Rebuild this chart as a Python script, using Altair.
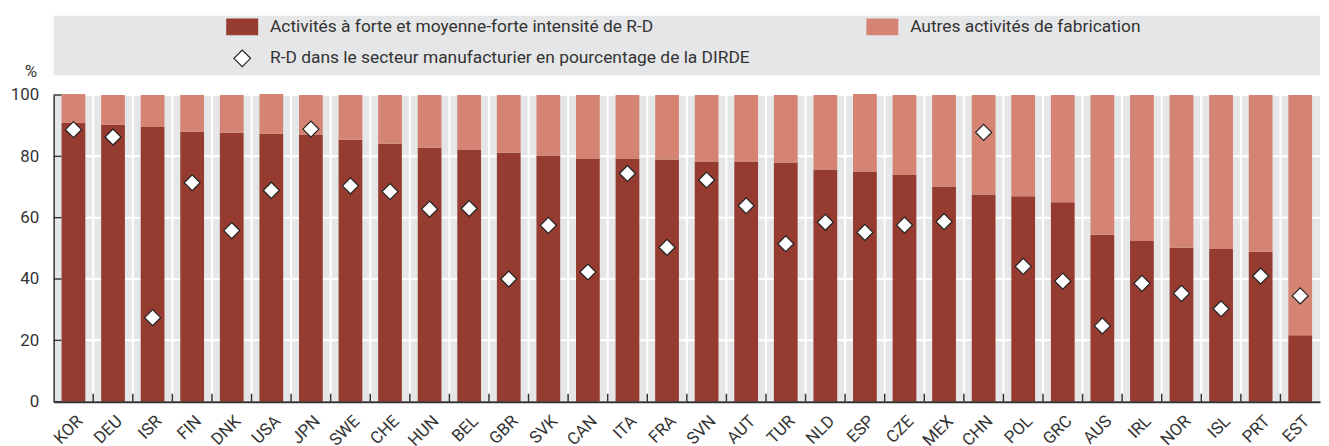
import altair as alt
import pandas as pd

countries = ["KOR", "DEU", "ISR", "FIN", "DNK", "USA", "JPN", "SWE", "CHE", "HUN",
             "BEL", "GBR", "SVK", "CAN", "ITA", "FRA", "SVN", "AUT", "TUR", "NLD",
             "ESP", "CZE", "MEX", "CHN", "POL", "GRC", "AUS", "IRL", "NOR", "ISL",
             "PRT", "EST"]
haute_intensite = [90.9, 90.3, 89.6, 88.0, 87.7, 87.4, 87.1, 85.4, 84.1, 82.8,
                   82.2, 81.2, 80.3, 79.3, 79.3, 79.0, 78.3, 78.3, 78.0, 75.7,
                   75.1, 74.1, 70.2, 67.6, 67.0, 65.0, 54.4, 52.4, 50.2, 49.8,
                   48.9, 21.7]
autres_activites = [9.4, 9.7, 10.4, 12.0, 12.3, 12.9, 12.9, 14.6, 15.9, 17.2,
                    17.8, 18.8, 19.7, 20.7, 20.7, 21.0, 21.7, 21.7, 22.0, 24.3,
                    25.2, 25.9, 29.8, 32.4, 33.0, 35.0, 45.6, 47.6, 49.8, 50.2,
                    51.1, 78.3]
rd_manufacturier = [88.7, 86.3, 27.4, 71.4, 55.8, 68.9, 88.9, 70.4, 68.5, 62.8,
                    63.0, 40.0, 57.5, 42.3, 74.4, 50.3, 72.3, 63.9, 51.5, 58.5,
                    55.2, 57.6, 58.7, 87.8, 44.1, 39.3, 24.7, 38.6, 35.3, 30.3,
                    41.0, 34.5]
y_ticks = [0, 20, 40, 60, 80, 100]

S_HIGH = "Activités à forte et moyenne-forte intensité de R-D"
S_OTHER = "Autres activités de fabrication"
S_RD = "R-D dans le secteur manufacturier en pourcentage de la DIRDE"
series = [S_HIGH, S_OTHER, S_RD]

n = len(countries)
bars_df = pd.DataFrame({
    "pays": countries * 2,
    "serie": [S_HIGH] * n + [S_OTHER] * n,
    "ordre": [0] * n + [1] * n,
    "valeur": haute_intensite + autres_activites,
})
pts_df = pd.DataFrame({"pays": countries, "serie": [S_RD] * n, "valeur": rd_manufacturier})
ticks_df = pd.DataFrame({"valeur": y_ticks})
bands_df = pd.DataFrame({"pays": countries})
panel_df = pd.DataFrame({"a": [0]})

FONT = "Roboto"
FS = 17
DARK = "#953B2F"
LIGHT = "#D58372"
BG = "#E5E6E8"
INK = "#333333"
W = 1276
H = 309
STEP = W / n
HALF_GAP = -0.2 * STEP
RECT = "M-1.85,-0.95H1.85V0.95H-1.85Z"

x_scale = alt.Scale(paddingInner=0.4, paddingOuter=0.2)
y_scale = alt.Scale(domain=[0, 100], nice=False)
color_scale = alt.Scale(domain=series, range=[DARK, LIGHT, "#FFFFFF"])
stroke_scale = alt.Scale(domain=series, range=[DARK, LIGHT, "#222222"])
shape_scale = alt.Scale(domain=series, range=[RECT, RECT, "diamond"])

x_axis = alt.Axis(orient="bottom", labelAngle=-45, labelFont=FONT,
                  labelFontSize=FS, labelColor=INK, labelPadding=11,
                  labelOffset=1, ticks=False, grid=False,
                  domainColor=INK, domainWidth=2, zindex=1)
y_axis = alt.Axis(orient="left", values=y_ticks, title="%",
                  titleAngle=0, titleX=-23.5, titleY=-19,
                  titleAlign="center", titleBaseline="alphabetic",
                  titleFont=FONT, titleFontSize=FS,
                  titleFontWeight="normal", titleColor=INK,
                  labelFont=FONT, labelFontSize=FS, labelColor=INK,
                  labelPadding=15, ticks=False, grid=False,
                  domainColor=INK, domainWidth=1.5, zindex=1)


def X(**kw):
    return alt.X("pays:N", sort=countries, scale=x_scale, title=None, axis=x_axis, **kw)


def Y(**kw):
    return alt.Y("valeur:Q", scale=y_scale, title="%", axis=y_axis, **kw)


legend = alt.Legend(
    title=None, orient="none", legendX=181, legendY=2, columns=2,
    direction="horizontal", columnPadding=115, rowPadding=10,
    labelFont=FONT, labelFontSize=17.5, labelColor=INK, labelOffset=19,
    labelLimit=700, symbolSize=280, symbolStrokeWidth=1.2, padding=0,
)

background = alt.Chart(panel_df).mark_rect(color=BG).encode(
    x=alt.value(0), x2=alt.value(W), y=alt.value(0), y2=alt.value(H))

h_grid = alt.Chart(ticks_df).mark_rule(color="#FFFFFF", strokeWidth=2).encode(y=Y())

v_grid = alt.Chart(bands_df).mark_rule(color="#FFFFFF", strokeWidth=2, xOffset=HALF_GAP).encode(
    x=X(bandPosition=0))

bars = alt.Chart(bars_df).mark_bar(opacity=1).encode(
    x=X(),
    y=Y(stack="zero"),
    color=alt.Color("serie:N", scale=color_scale, legend=legend),
    order=alt.Order("ordre:Q"),
)

x_ticks = alt.Chart(bands_df.iloc[1:]).mark_rule(color=INK, strokeWidth=1.5, xOffset=HALF_GAP).encode(
    x=X(bandPosition=0), y=alt.value(H - 8), y2=alt.value(H))

y_tick_marks = alt.Chart(ticks_df).mark_rule(color=INK, strokeWidth=1.5).encode(
    y=Y(), x=alt.value(0), x2=alt.value(8))

pts = alt.Chart(pts_df).mark_point(filled=True, opacity=1, size=260, strokeWidth=1.2).encode(
    x=X(),
    y=Y(),
    color=alt.Color("serie:N", scale=color_scale, legend=legend),
    stroke=alt.Stroke("serie:N", scale=stroke_scale, legend=legend),
    shape=alt.Shape("serie:N", scale=shape_scale, legend=legend),
)

main = alt.layer(background, h_grid, v_grid, bars, x_ticks, y_tick_marks, pts).properties(
    width=W, height=H)

top = alt.Chart(panel_df).mark_point(opacity=0).encode(
    x=alt.value(0), y=alt.value(0)).properties(width=W, height=60)

chart = alt.vconcat(top, main, spacing=20, bounds="flush").properties(
    padding={"left": 2, "top": 3, "right": 0, "bottom": 0}
).configure_view(fill=BG, strokeWidth=0)

chart.save("out.html", embed_options={"renderer": "svg", "actions": False})
